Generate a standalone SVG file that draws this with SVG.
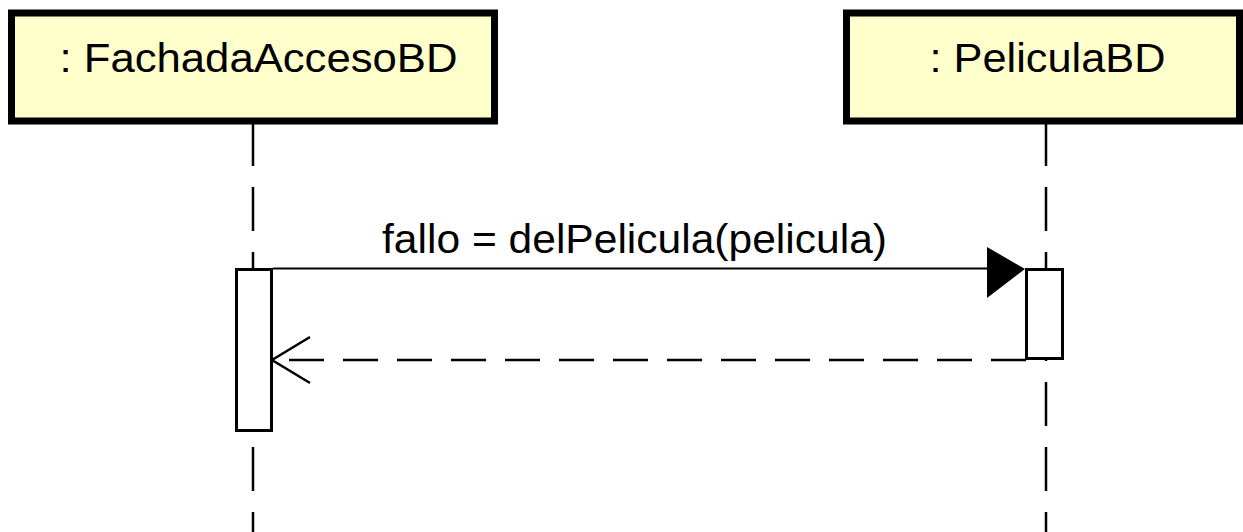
<svg xmlns="http://www.w3.org/2000/svg" width="1243" height="532" viewBox="0 0 1243 532">
<style>
.box{fill:#FFFFCC;stroke:#000;stroke-width:7}
.lbl{font-family:"Liberation Sans",Arial,sans-serif;font-size:40px;fill:#000}
.life{stroke:#000;stroke-width:2.5;stroke-dasharray:44 21;fill:none}
.act{fill:#fff;stroke:#000;stroke-width:3}
.msg{stroke:#000;stroke-width:2;fill:none}
.ret{stroke:#000;stroke-width:2.5;stroke-dasharray:35 19;fill:none}
</style>
<rect width="1243" height="532" fill="#fff"/>
<g id="lifelines">
<line class="life" x1="253" y1="122" x2="253" y2="540"/>
<line class="life" x1="1046" y1="122" x2="1046" y2="540"/>
</g>
<g id="FachadaAccesoBD">
<rect class="box" x="11.5" y="13" width="483" height="108"/>
<text class="lbl" x="59.5" y="72" textLength="398" lengthAdjust="spacingAndGlyphs">: FachadaAccesoBD</text>
</g>
<g id="PeliculaBD">
<rect class="box" x="846.5" y="13" width="393" height="108"/>
<text class="lbl" x="929.5" y="72" textLength="236" lengthAdjust="spacingAndGlyphs">: PeliculaBD</text>
</g>
<g id="activation1">
<rect class="act" x="236.5" y="269.5" width="35" height="161"/>
</g>
<g id="activation2">
<rect class="act" x="1026.5" y="269.5" width="36" height="89"/>
</g>
<g id="connectors">
<line class="msg" x1="273" y1="268.5" x2="990" y2="268.5"/>
<polygon points="987,247 1025,269 987,298" fill="#000"/>
<text class="lbl" x="382" y="253" textLength="505" lengthAdjust="spacingAndGlyphs">fallo = delPelicula(pelicula)</text>
<line class="ret" x1="1026" y1="360" x2="274" y2="360"/>
<polyline class="msg" points="310,337 272,360 310,383" style="stroke-width:2.5"/>
</g>
</svg>
